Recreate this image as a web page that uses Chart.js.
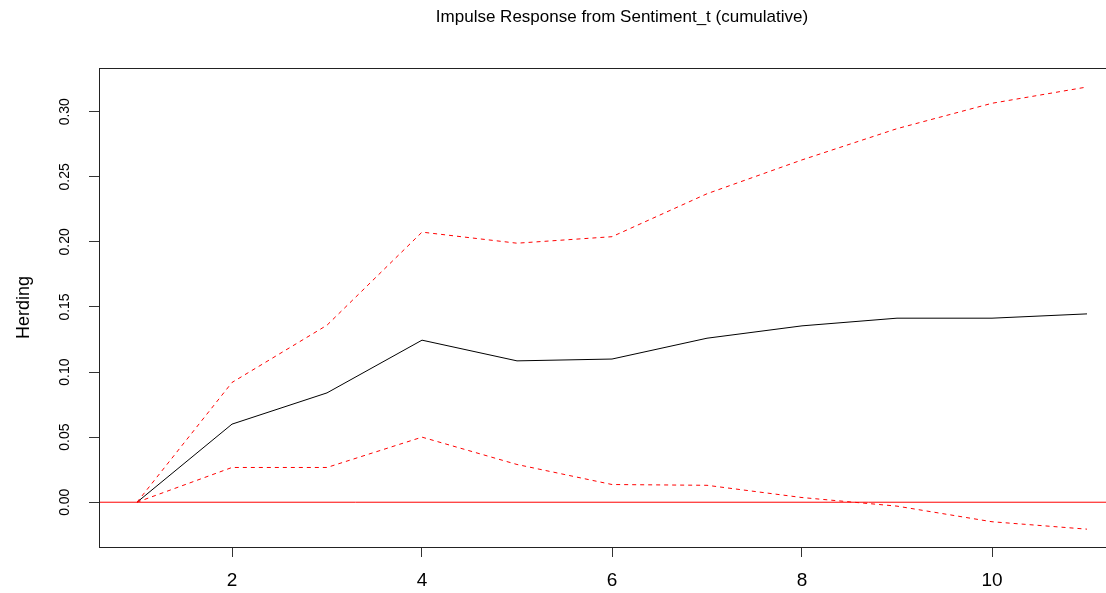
<!DOCTYPE html>
<html>
<head>
<meta charset="utf-8">
<script src="https://cdn.jsdelivr.net/npm/chart.js@4"></script>
<style>
  html, body { margin: 0; padding: 0; background: #fff; overflow: hidden; }
  #wrap { position: relative; width: 1130px; height: 593px; }
</style>
</head>
<body>
<div id="wrap"><canvas id="c"></canvas></div>
<script>
// ---- data ----
const horizons = [1, 2, 3, 4, 5, 6, 7, 8, 9, 10, 11];
const irfValues = [0, 0.060, 0.084, 0.1245, 0.1086, 0.110, 0.126, 0.1355, 0.1414, 0.1414, 0.1447];
const upperValues = [0, 0.092, 0.136, 0.2075, 0.199, 0.204, 0.237, 0.263, 0.287, 0.3065, 0.319];
const lowerValues = [0, 0.0267, 0.0267, 0.050, 0.029, 0.0136, 0.013, 0.0036, -0.003, -0.015, -0.0207];
const xTickValues = [2, 4, 6, 8, 10];
const yTickValues = [0, 0.05, 0.10, 0.15, 0.20, 0.25, 0.30];
const titleText = 'Impulse Response from Sentiment_t (cumulative)';
const yAxisTitle = 'Herding';
const xRange = [0.6, 11.4];
const yRange = [-0.0344, 0.3336];

const FONT = '"Liberation Sans", Arial, sans-serif';
const toXY = (vals) => vals.map((v, i) => ({ x: horizons[i], y: v }));

const boxAndTitle = {
  id: 'boxAndTitle',
  afterDraw(chart) {
    const { ctx, chartArea: a } = chart;
    ctx.save();
    ctx.strokeStyle = '#222';
    ctx.lineWidth = 1;
    ctx.strokeRect(Math.round(a.left) + 0.5, Math.round(a.top) + 0.5,
                   Math.round(a.right - a.left), Math.round(a.bottom - a.top));
    ctx.fillStyle = '#000';
    ctx.font = '17px ' + FONT;
    ctx.textAlign = 'center';
    ctx.textBaseline = 'middle';
    ctx.fillText(titleText, 622, 17);
    ctx.restore();
  }
};

new Chart(document.getElementById('c'), {
  type: 'line',
  data: {
    datasets: [
      { data: [{ x: xRange[0], y: 0 }, { x: xRange[1], y: 0 }], borderColor: '#ff0000', borderWidth: 1, pointRadius: 0 },
      { data: toXY(upperValues), borderColor: '#ff0000', borderWidth: 1, borderDash: [4, 4], pointRadius: 0 },
      { data: toXY(lowerValues), borderColor: '#ff0000', borderWidth: 1, borderDash: [4, 4], pointRadius: 0 },
      { data: toXY(irfValues), borderColor: '#000000', borderWidth: 1, pointRadius: 0 }
    ]
  },
  options: {
    responsive: true,
    maintainAspectRatio: false,
    devicePixelRatio: 1,
    animation: false,
    events: [],
    layout: { padding: { left: 0, top: 68, right: 5, bottom: 0 } },
    plugins: { legend: { display: false }, title: { display: false }, tooltip: { enabled: false } },
    scales: {
      x: {
        type: 'linear',
        min: xRange[0], max: xRange[1],
        afterBuildTicks: (s) => { s.ticks = xTickValues.map(v => ({ value: v })); },
        afterFit: (s) => { s.height = 46; },
        border: { display: false },
        grid: { display: true, drawOnChartArea: false, drawTicks: true, tickLength: 10, color: '#333' },
        ticks: { color: '#000', font: { family: FONT, size: 19 }, padding: 12, maxRotation: 0, minRotation: 0,
                 callback: (v) => String(v) }
      },
      y: {
        type: 'linear',
        min: yRange[0], max: yRange[1],
        afterBuildTicks: (s) => { s.ticks = yTickValues.map(v => ({ value: v })); },
        afterFit: (s) => { s.width = 99; },
        border: { display: false },
        grid: { display: true, drawOnChartArea: false, drawTicks: true, tickLength: 10, color: '#333' },
        ticks: { color: '#000', font: { family: FONT, size: 14 }, padding: 10, minRotation: 90, maxRotation: 90,
                 crossAlign: 'center', callback: (v) => Number(v).toFixed(2) },
        title: { display: true, text: yAxisTitle, color: '#000', font: { family: FONT, size: 18 }, padding: { top: 13, bottom: 0 } }
      }
    }
  },
  plugins: [boxAndTitle]
});
</script>
</body>
</html>
